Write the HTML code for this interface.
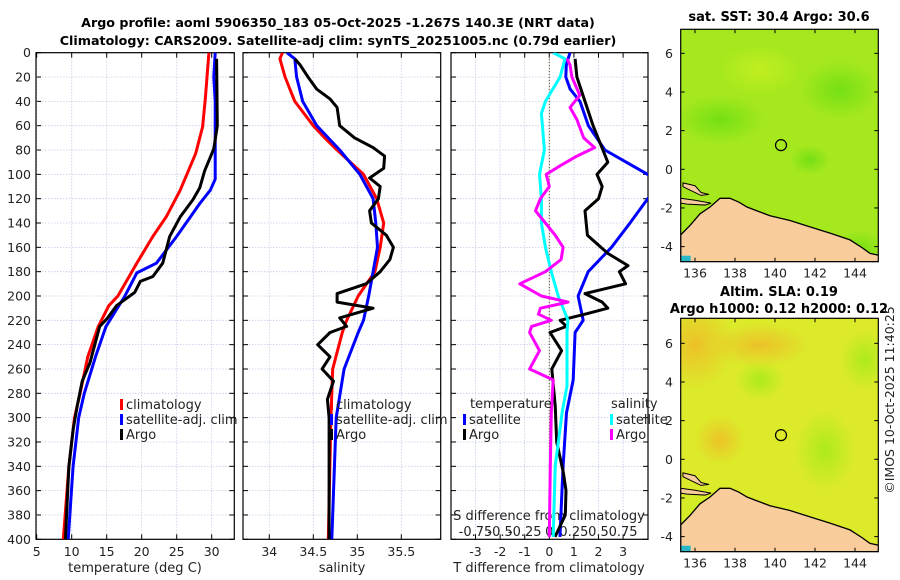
<!DOCTYPE html>
<html><head><meta charset="utf-8">
<style>
html,body{margin:0;padding:0;background:#fff;}
svg{display:block;font-family:"DejaVu Sans","Liberation Sans",sans-serif;}
</style></head>
<body>
<svg id="fig" width="900" height="580" viewBox="0 0 900 580" xmlns="http://www.w3.org/2000/svg">
<defs>
<clipPath id="c1"><rect x="36" y="52.7" width="198.3" height="486.6"/></clipPath>
<clipPath id="c2"><rect x="243" y="52.7" width="197.7" height="486.6"/></clipPath>
<clipPath id="c3"><rect x="451" y="52.7" width="197" height="486.6"/></clipPath>
<clipPath id="cm1"><rect x="680.7" y="29.3" width="197.6" height="232.4"/></clipPath>
<clipPath id="cm2"><rect x="680.7" y="318.3" width="197.6" height="233.4"/></clipPath>
<radialGradient id="g1"><stop offset="0" stop-color="#5fdc10" stop-opacity="0.7"/><stop offset="1" stop-color="#5fdc10" stop-opacity="0"/></radialGradient>
<radialGradient id="g2"><stop offset="0" stop-color="#f2b428" stop-opacity="0.75"/><stop offset="1" stop-color="#f2b428" stop-opacity="0"/></radialGradient>
<radialGradient id="g3"><stop offset="0" stop-color="#a8ea1a" stop-opacity="0.9"/><stop offset="1" stop-color="#a8ea1a" stop-opacity="0"/></radialGradient>
<radialGradient id="g4"><stop offset="0" stop-color="#c8f020" stop-opacity="0.8"/><stop offset="1" stop-color="#c8f020" stop-opacity="0"/></radialGradient>
</defs>
<text x="338" y="27" text-anchor="middle" font-size="12.7" font-weight="bold">Argo profile: aoml 5906350_183 05-Oct-2025 -1.267S 140.3E (NRT data)</text>
<text x="338" y="45" text-anchor="middle" font-size="12.7" font-weight="bold">Climatology: CARS2009. Satellite-adj clim: synTS_20251005.nc (0.79d earlier)</text>
<g id="plots"></g>
<g id="maps"></g>
<text transform="translate(894,400) rotate(-90)" text-anchor="middle" font-size="12.5" fill="#222">©IMOS 10-Oct-2025 11:40:25</text>
</svg>
<script>
// ---------- data ----------
const tempDepthTicks = [0,20,40,60,80,100,120,140,160,180,200,220,240,260,280,300,320,340,360,380,400];
const tempTicks = [5,10,15,20,25,30];
const salTicks = [34,34.5,35,35.5];
const dtTicks = [-3,-2,-1,0,1,2,3];
const dsTickLabels = ["-0.75","-0.5","-0.25","0","0.25","0.5","0.75"];

const climTDepth = [0,37,61,83,113,135,151,173,200,208,225,250,280,300,340,400];
const climTVal   = [29.6,29.1,28.7,27.7,25.5,23.5,21.6,19.3,16.6,15.3,13.8,12.3,11.2,10.4,9.6,8.8];
const satTDepth = [0,20,40,104,113,124,151,173,181,200,225,250,280,300,340,400];
const satTVal   = [30.5,30.3,30.5,30.5,29.8,28.3,25.0,22.1,19.3,17.6,14.9,13.4,11.8,11.0,10.2,9.5];
const argoTDepth = [5,60,79,97,111,121,135,151,173,184,188,197,208,219,225,240,255,270,290,310,340,400];
const argoTVal   = [30.7,30.8,30.3,29.0,28.3,27.3,25.5,24.0,23.0,21.6,19.8,19.0,16.4,15.0,14.0,13.3,12.6,11.5,10.8,10.2,9.6,9.1];

const climSDepth = [0,5,20,40,60,70,80,100,120,140,160,180,200,220,230,260,300,400];
const climSVal   = [34.15,34.12,34.18,34.29,34.5,34.63,34.77,35.07,35.22,35.30,35.26,35.2,35.01,34.88,34.83,34.72,34.70,34.67];
const satSDepth = [0,5,20,40,60,80,100,120,140,160,180,200,220,230,260,300,400];
const satSVal   = [34.2,34.29,34.31,34.38,34.54,34.8,35.03,35.18,35.21,35.23,35.18,35.13,35.07,35.01,34.85,34.76,34.71];
const argoSDepth = [5,10,20,30,38,45,60,70,78,85,95,103,110,120,130,140,150,160,170,180,190,198,205,210,218,225,230,240,250,260,270,285,300,400];
const argoSVal   = [34.29,34.35,34.44,34.54,34.69,34.77,34.8,34.97,35.18,35.31,35.3,35.14,35.26,35.24,35.14,35.16,35.33,35.41,35.37,35.26,35.1,34.77,34.77,35.18,34.8,34.88,34.69,34.55,34.69,34.60,34.73,34.66,34.68,34.68];

const satDTDepth = [0,10,20,30,40,60,80,100,110,120,140,160,180,200,220,230,269,296,340,398];
const satDTVal   = [0.84,0.69,0.67,0.85,1.25,1.59,2.26,4.0,4.6,4.0,3.28,2.53,1.58,1.17,1.38,1.05,0.97,0.70,0.56,0.43];
const argoDTDepth = [5,20,40,60,80,90,100,110,120,130,140,150,165,175,180,190,198,205,210,215,220,225,230,245,260,290,320,345,360,380,398];
const argoDTVal   = [1.05,1.12,1.45,1.78,2.18,2.38,1.94,2.15,2.0,1.45,1.5,1.55,2.38,3.2,2.85,3.1,1.45,2.15,2.38,1.45,0.44,0.7,0.03,0.5,0.1,0.24,0.3,0.57,0.68,0.65,0.23];
const satDSDepth = [0,5,20,40,50,80,100,120,140,160,180,200,220,230,274,296,340,398];
const satDSVal   = [0.04,0.16,0.11,-0.04,-0.08,-0.05,-0.10,-0.08,-0.08,-0.04,0.02,0.09,0.19,0.18,0.18,0.13,0.06,0.04];
const argoDSDepth = [5,10,20,35,45,55,70,78,85,93,100,110,120,130,140,150,160,170,180,190,200,205,210,215,220,225,230,245,260,269,296,340,398];
const argoDSVal   = [0.18,0.21,0.23,0.31,0.21,0.28,0.35,0.46,0.28,0.11,-0.03,0.0,-0.09,-0.14,-0.04,0.06,0.14,0.12,-0.04,-0.30,-0.08,0.19,-0.09,-0.11,0.02,-0.18,-0.2,-0.1,-0.2,0.04,0.02,0.01,0.0];

const lonTicks = [136,138,140,142,144];
const latTicks = [-4,-2,0,2,4,6];
const argoLon = [140.3];
const argoLat = [1.25];
const coastLon = [135.28,135.75,136.25,136.75,137.25,137.75,138.2,138.6,139.1,139.75,140.75,141.65,142.75,143.75,144.35,144.75,145.2];
const coastLat = [-3.4,-2.9,-2.3,-1.95,-1.5,-1.5,-1.7,-1.95,-2.15,-2.4,-2.65,-2.95,-3.3,-3.65,-4.05,-4.35,-4.45];

// ---------- scales ----------
const NS="http://www.w3.org/2000/svg";
const Y0=52.7, Y1=539.3;
const yD = d => Y0 + (Y1-Y0)*d/400;
const xT = t => 36.7 + 7*(t-5);
const xS = s => 269.3 + 88*(s-34);
const xDT = v => 549.3 + 24.6*v;
const xDS = v => 549.3 + 98.4*v;
const MX0=680.7, MX1=878.3;
const xLon = l => 695 + 20*(l-136);
const yLat1 = l => 169.3 - 19.33*l;
const yLat2 = l => 459.3 - 19.33*l;

function el(tag, attrs, parent){ const e=document.createElementNS(NS,tag); for(const k in attrs) e.setAttribute(k,attrs[k]); parent.appendChild(e); return e; }
const plots=document.getElementById('plots');
const maps=document.getElementById('maps');

function line(xs, depths, vals, color, clip, name, w){
  const pts = depths.map((d,i)=> xs(vals[i]).toFixed(1)+','+yD(d).toFixed(1)).join(' ');
  const p = el('polyline',{points:pts,fill:'none',stroke:color,'stroke-width':w||3,'stroke-linejoin':'round','clip-path':'url(#'+clip+')'},plots);
  
  
}

function panel(x0,x1,name,clip){
  const g = el('g',{},plots);
  
  
  tempDepthTicks.forEach(d=>{
    const y=yD(d);
    el('line',{x1:x0,x2:x1,y1:y,y2:y,stroke:'#c4cbe6','stroke-width':0.8,'stroke-dasharray':'1.5,1.5'},g);
    el('line',{x1:x0,x2:x0+5,y1:y,y2:y,stroke:'#000','stroke-width':1},g);
    el('line',{x1:x1-5,x2:x1,y1:y,y2:y,stroke:'#000','stroke-width':1},g);
  });
  return g;
}
function vgrid(g,x){
  el('line',{x1:x,x2:x,y1:Y0,y2:Y1,stroke:'#c4cbe6','stroke-width':0.8,'stroke-dasharray':'1.5,1.5'},g);
  el('line',{x1:x,x2:x,y1:Y1-5,y2:Y1,stroke:'#000','stroke-width':1},g);
  el('line',{x1:x,x2:x,y1:Y0,y2:Y0+5,stroke:'#000','stroke-width':1},g);
}
function txt(parent,x,y,s,anchor,size,name,extra){
  const t=el('text',Object.assign({x:x,y:y,'text-anchor':anchor||'middle','font-size':size||12.5,fill:'#222'},extra||{}),parent);
  t.textContent=s;
  
  
  return t;
}

// Panel 1: temperature
const g1=panel(36,234.3,'temperature-panel','c1');
tempTicks.forEach(t=>{ vgrid(g1,xT(t)); txt(g1,xT(t),556,String(t),'middle',12.5,'x-tick-label'); });
tempDepthTicks.forEach(d=> txt(g1,31,yD(d)+4.5,String(d),'end',12.5,'depth-tick-label'));
txt(g1,135,572,'temperature (deg C)','middle',13,'x-axis-title-temperature');
line(xT,climTDepth,climTVal,'#ff0000','c1','climatology-temp-line');
line(xT,satTDepth,satTVal,'#0000ff','c1','satellite-temp-line');
line(xT,argoTDepth,argoTVal,'#000000','c1','argo-temp-line');
el('rect',{x:36,y:Y0,width:198.3,height:Y1-Y0,fill:'none',stroke:'#000','stroke-width':1.2},g1);

// Panel 2: salinity
const g2=panel(243,440.7,'salinity-panel','c2');
salTicks.forEach(s=>{ vgrid(g2,xS(s)); txt(g2,xS(s),556,String(s),'middle',12.5,'x-tick-label'); });
txt(g2,342,572,'salinity','middle',13,'x-axis-title-salinity');
line(xS,climSDepth,climSVal,'#ff0000','c2','climatology-sal-line');
line(xS,satSDepth,satSVal,'#0000ff','c2','satellite-sal-line');
line(xS,argoSDepth,argoSVal,'#000000','c2','argo-sal-line');
el('rect',{x:243,y:Y0,width:197.7,height:Y1-Y0,fill:'none',stroke:'#000','stroke-width':1.2},g2);

// Panel 3: differences
const g3=panel(451,648,'difference-panel','c3');
dtTicks.forEach((v,i)=>{ vgrid(g3,xDT(v)); txt(g3,xDT(v),556,String(v),'middle',12.5,'x-tick-label'); });
el('line',{x1:xDT(0),x2:xDT(0),y1:Y0,y2:Y1,stroke:'#6b5a3a','stroke-width':1,'stroke-dasharray':'1.5,1.5'},g3);
line(xDT,satDTDepth,satDTVal,'#0000ff','c3','satellite-temp-diff-line');
line(xDT,argoDTDepth,argoDTVal,'#000000','c3','argo-temp-diff-line');
line(xDS,satDSDepth,satDSVal,'#00ffff','c3','satellite-sal-diff-line');
line(xDS,argoDSDepth,argoDSVal,'#ff00ff','c3','argo-sal-diff-line');
txt(g3,549,520,'S difference from climatology','middle',13,'s-axis-title');
dtTicks.forEach((v,i)=> txt(g3,xDT(v),536,dsTickLabels[i],'middle',13,'s-tick-label'));
txt(g3,549,572,'T difference from climatology','middle',13,'x-axis-title-tdiff');
el('rect',{x:451,y:Y0,width:197,height:Y1-Y0,fill:'none',stroke:'#000','stroke-width':1.2},g3);

// Legends
function legend(x,y,color,label,name){
  const g=el('g',{},plots);
  
  
  el('rect',{x:x,y:y-10,width:3,height:11,fill:color},g);
  txt(g,x+6,y,label,'start',13,name+'-label');
}
legend(120,409,'#ff0000','climatology','legend-climatology');
legend(120,424,'#0000ff','satellite-adj. clim','legend-satellite-adj');
legend(120,439,'#000000','Argo','legend-argo');
legend(330,409,'#ff0000','climatology','legend-sal-climatology');
legend(330,424,'#0000ff','satellite-adj. clim','legend-sal-satellite-adj');
legend(330,439,'#000000','Argo','legend-sal-argo');
txt(plots,470,408,'temperature','start',13,'legend-temperature-header');
legend(463,424,'#0000ff','satellite','legend-temp-satellite');
legend(463,439,'#000000','Argo','legend-temp-argo');
txt(plots,611,408,'salinity','start',13,'legend-salinity-header');
legend(610,424,'#00ffff','satellite','legend-sal-diff-satellite');
legend(610,439,'#ff00ff','Argo','legend-sal-diff-argo');

// ---------- maps ----------
function map(top,bot,yLat,clip,base,blobs,name,titles){
  const g=el('g',{},maps);
  
  
  const inner=el('g',{'clip-path':'url(#'+clip+')'},g);
  el('rect',{x:MX0,y:top,width:MX1-MX0,height:bot-top,fill:base},inner);
  blobs.forEach(b=> el('ellipse',{cx:b[0],cy:b[1],rx:b[2],ry:b[3],fill:'url(#'+b[4]+')'},inner));
  const pts = coastLon.map((l,i)=> xLon(l).toFixed(1)+','+yLat(coastLat[i]).toFixed(1));
  const land = el('polygon',{points:pts.join(' ')+' '+MX1+','+bot+' '+MX0+','+bot,fill:'#f9cc9c',stroke:'#000','stroke-width':1.3},inner);
  
  
  el('polygon',{points:[[135.4,-0.7],[136,-0.85],[136.3,-1.2],[136.7,-1.3],[136.3,-1.35],[135.9,-1.15],[135.4,-0.9]].map(p=>xLon(p[0])+','+yLat(p[1])).join(' '),fill:'#f9cc9c',stroke:'#000','stroke-width':1},inner);
  el('polygon',{points:[[135.28,-1.5],[136,-1.6],[136.8,-1.75],[136.5,-1.85],[135.6,-1.8],[135.28,-1.75]].map(p=>xLon(p[0])+','+yLat(p[1])).join(' '),fill:'#f9cc9c',stroke:'#000','stroke-width':1},inner);
  el('rect',{x:MX0,y:bot-6,width:10,height:6,fill:'#29b8c8'},inner);
  const c=el('circle',{cx:xLon(argoLon[0]),cy:yLat(argoLat[0]),r:5.5,fill:'none',stroke:'#000','stroke-width':1.2},g);
  
  
  el('rect',{x:MX0,y:top,width:MX1-MX0,height:bot-top,fill:'none',stroke:'#000','stroke-width':1.2},g);
  lonTicks.forEach(l=>{ const x=xLon(l);
    el('line',{x1:x,x2:x,y1:bot,y2:bot-4,stroke:'#000'},g); el('line',{x1:x,x2:x,y1:top,y2:top+4,stroke:'#000'},g);
    txt(g,x,bot+16,String(l),'middle',12.5,'lon-tick-label'); });
  latTicks.forEach(l=>{ const y=yLat(l);
    el('line',{x1:MX0,x2:MX0+4,y1:y,y2:y,stroke:'#000'},g); el('line',{x1:MX1-4,x2:MX1,y1:y,y2:y,stroke:'#000'},g);
    txt(g,673,y+4.5,String(l),'end',12.5,'lat-tick-label'); });
  titles.forEach(t=> txt(g,779,t[1],t[0],'middle',13,t[2],{'font-weight':'bold',fill:'#000'}));
}
map(29.3,261.7,yLat1,'cm1','#a6e81e',
  [[720,120,45,25,'g1'],[840,90,40,30,'g1'],[810,160,20,15,'g1'],[860,250,25,20,'g1'],[760,70,40,25,'g4']],
  'sst-map',[['sat. SST: 30.4 Argo: 30.6',21,'sst-map-title']]);
map(318.3,551.7,yLat2,'cm2','#dcea2a',
  [[695,345,40,45,'g2'],[720,440,25,25,'g2'],[760,345,50,22,'g2'],[825,450,30,40,'g3'],[760,380,25,20,'g3'],[865,360,25,30,'g3'],[700,510,25,30,'g4']],
  'sla-map',[['Altim. SLA: 0.19',296,'sla-map-title'],['Argo h1000: 0.12 h2000: 0.12',313,'sla-map-subtitle']]);
</script>
</body></html>
